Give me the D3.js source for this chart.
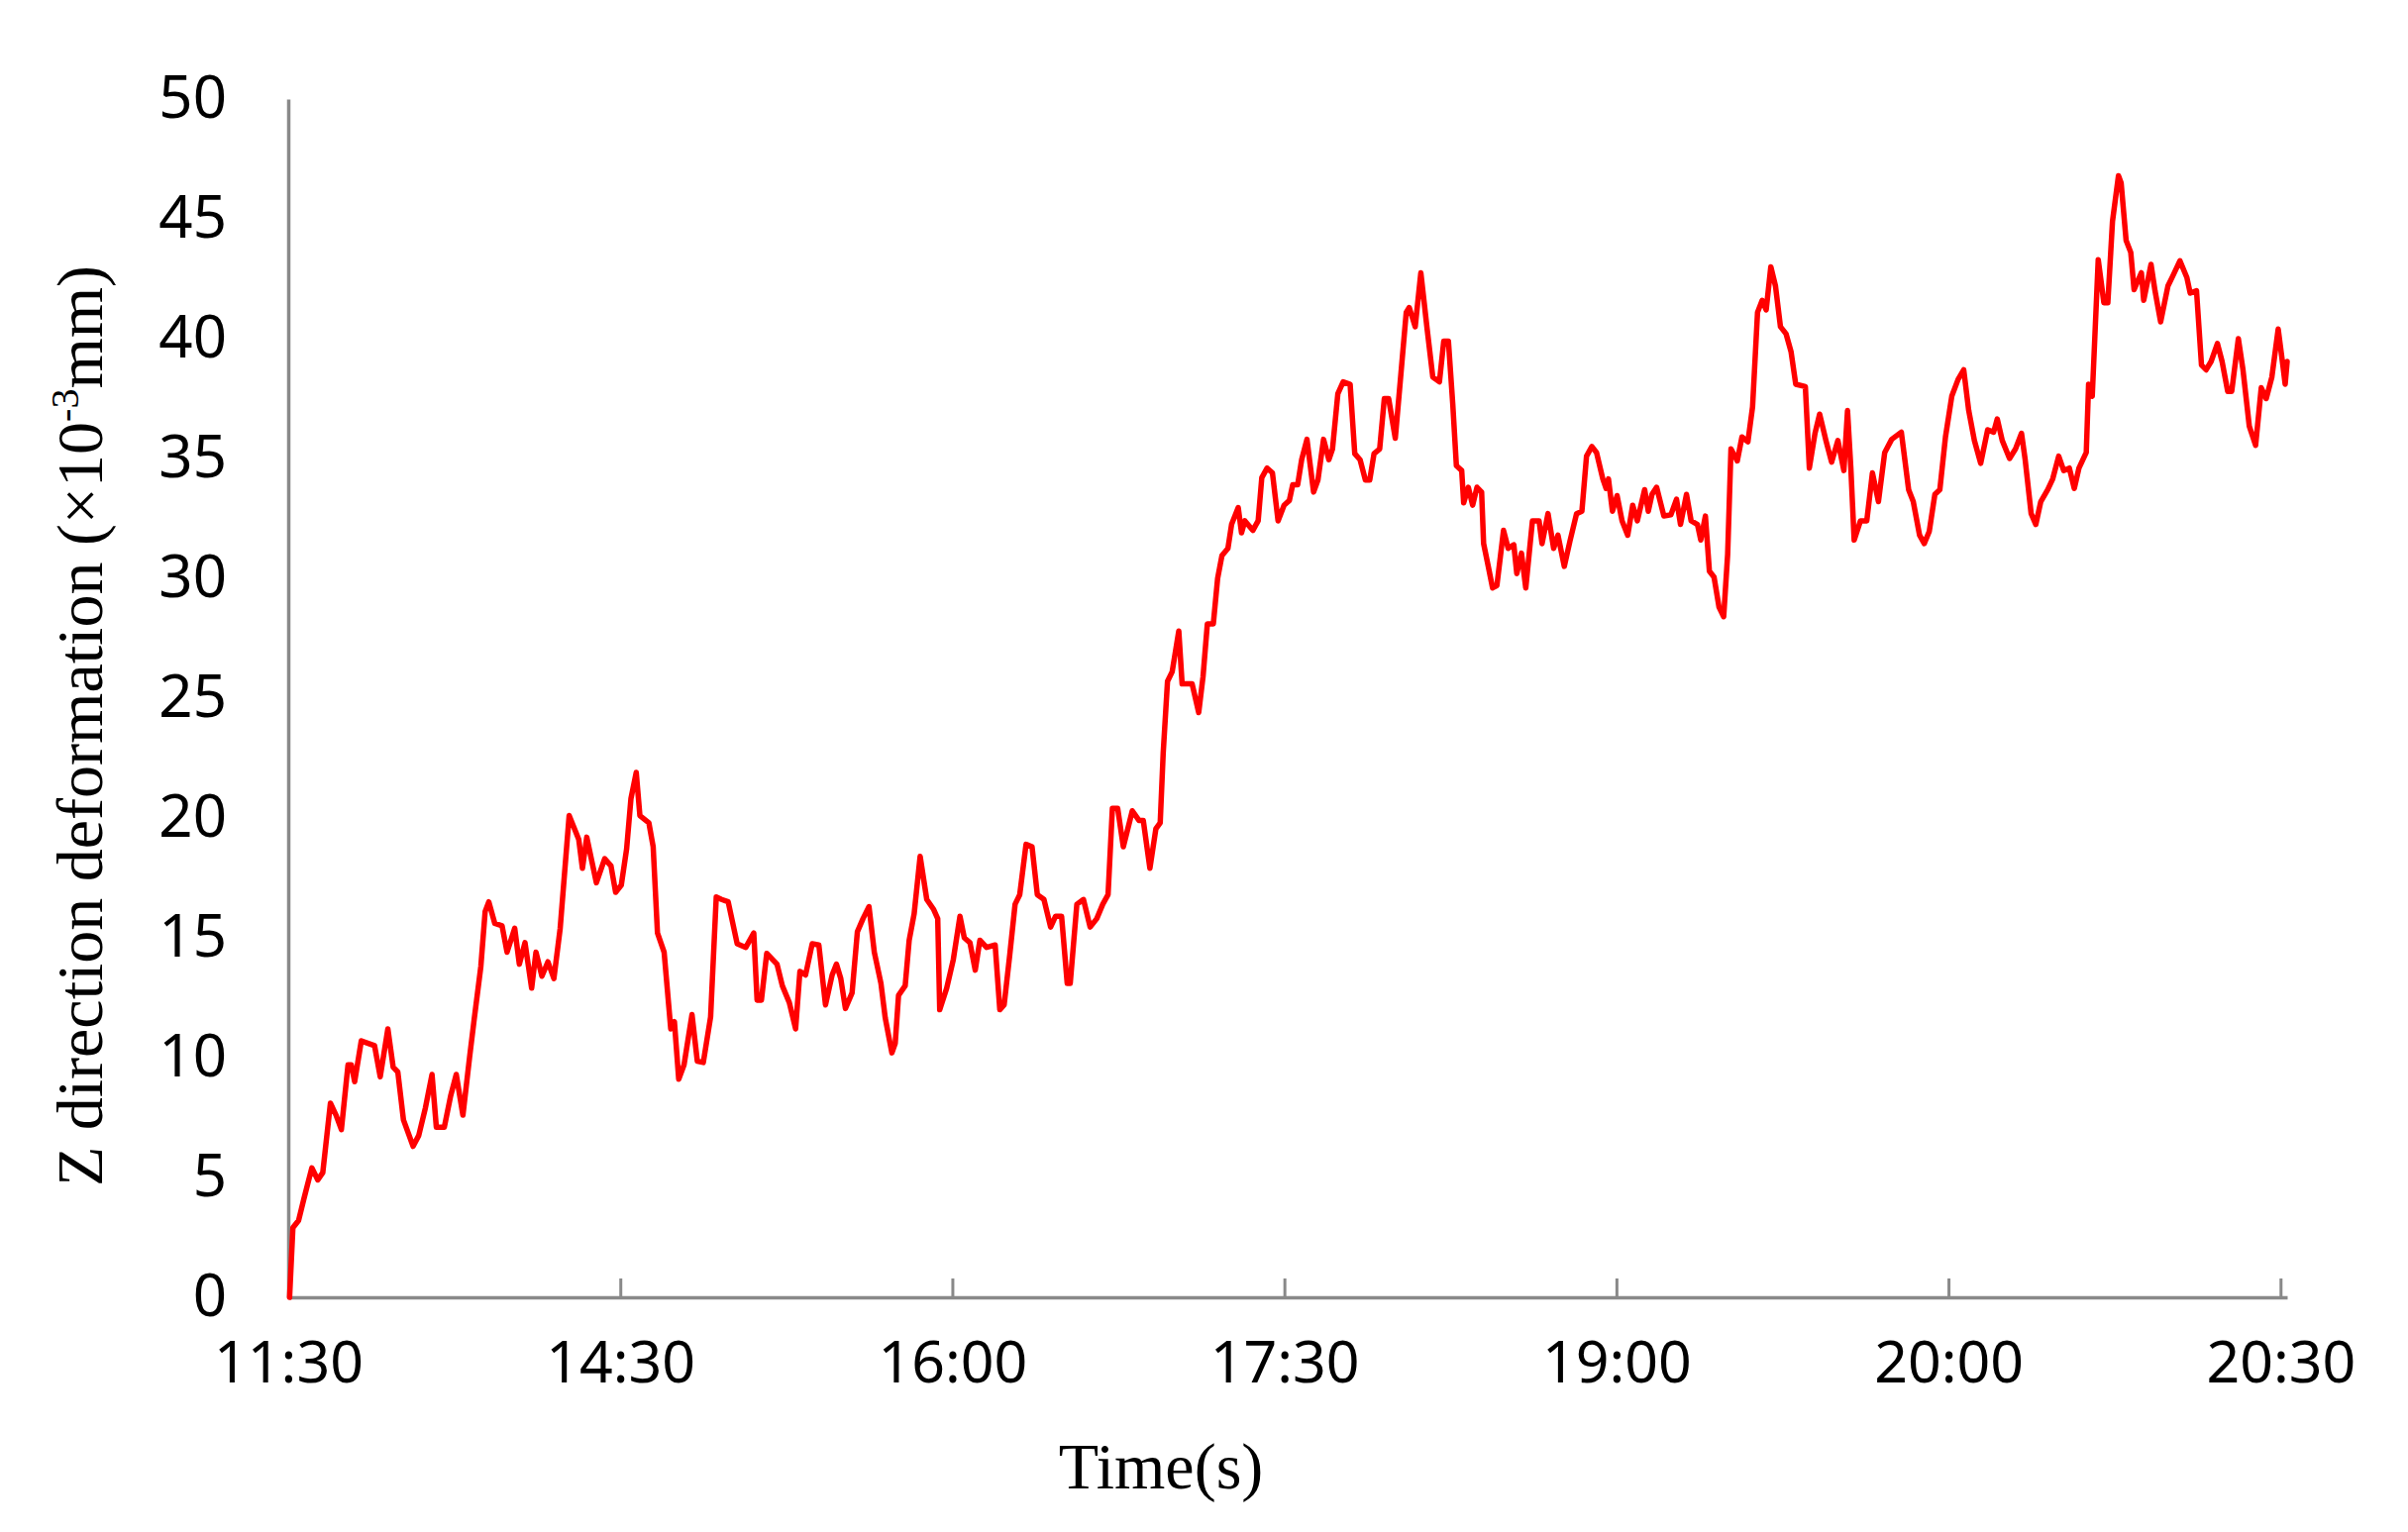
<!DOCTYPE html>
<html>
<head>
<meta charset="utf-8">
<script src="https://cdn.jsdelivr.net/npm/d3@7"></script>
<style>
  html, body { margin: 0; padding: 0; background: #ffffff; }
  svg { display: block; }
</style>
</head>
<body>
<svg id="chart" width="2431" height="1547"></svg>
<script>
// ---- data (position in tick intervals from 11:30, deformation ×10^-3 mm) ----
const tickLabels = ["11:30", "14:30", "16:00", "17:30", "19:00", "20:00", "20:30"];
const yTicks = [0, 5, 10, 15, 20, 25, 30, 35, 40, 45, 50];

const position = [
  0.004, 0.014, 0.031, 0.047, 0.071, 0.089, 0.104, 0.127, 0.144, 0.160, 0.180, 0.190, 0.200, 0.220, 0.260,
  0.277, 0.300, 0.316, 0.330, 0.347, 0.376, 0.393, 0.413, 0.433, 0.446, 0.470, 0.489, 0.506, 0.526, 0.546,
  0.560, 0.580, 0.593, 0.604, 0.622, 0.644, 0.659, 0.682, 0.696, 0.713, 0.733, 0.746, 0.764, 0.782, 0.800,
  0.819, 0.846, 0.875, 0.886, 0.899, 0.928, 0.953, 0.972, 0.986, 1.003, 1.019, 1.032, 1.048, 1.059, 1.086,
  1.099, 1.112, 1.132, 1.152, 1.163, 1.176, 1.192, 1.216, 1.232, 1.250, 1.272, 1.289, 1.305, 1.325, 1.352,
  1.378, 1.402, 1.412, 1.425, 1.441, 1.472, 1.488, 1.509, 1.528, 1.541, 1.558, 1.578, 1.598, 1.618, 1.638,
  1.651, 1.664, 1.678, 1.698, 1.714, 1.731, 1.749, 1.765, 1.785, 1.798, 1.818, 1.828,
  1.838, 1.858, 1.870, 1.885, 1.903, 1.923, 1.943, 1.956, 1.962, 1.983, 2.003, 2.023, 2.036, 2.053, 2.069,
  2.083, 2.103, 2.129, 2.143, 2.156, 2.173, 2.189, 2.203, 2.222, 2.240, 2.256, 2.276, 2.296, 2.311, 2.329,
  2.346, 2.355, 2.375, 2.395, 2.415, 2.435, 2.453, 2.469, 2.482, 2.498, 2.515, 2.542, 2.562, 2.575, 2.595,
  2.613, 2.626, 2.635, 2.648, 2.662, 2.682, 2.692, 2.722, 2.742, 2.755, 2.768, 2.786, 2.799, 2.812, 2.830,
  2.841, 2.861, 2.871, 2.881, 2.905, 2.921, 2.932, 2.948, 2.964, 2.981, 2.999, 3.015, 3.025, 3.040, 3.052,
  3.068, 3.088, 3.101, 3.118, 3.134, 3.145, 3.161, 3.177, 3.198, 3.212, 3.228, 3.244, 3.257, 3.270, 3.287,
  3.301, 3.314, 3.334, 3.347, 3.367, 3.376, 3.394, 3.411, 3.430, 3.447, 3.467, 3.480, 3.494, 3.507, 3.518,
  3.534, 3.540, 3.554, 3.567, 3.580, 3.594, 3.600, 3.614, 3.627, 3.640, 3.660, 3.674, 3.691, 3.700, 3.714,
  3.727, 3.747, 3.767, 3.776, 3.794, 3.811, 3.824, 3.843, 3.860, 3.880, 3.896, 3.910,
  3.926, 3.940, 3.959, 3.969, 3.976, 3.988, 4.002, 4.017, 4.034, 4.049, 4.063, 4.085, 4.096, 4.107, 4.121,
  4.143, 4.164, 4.181, 4.193, 4.211, 4.225, 4.244, 4.254, 4.268, 4.280, 4.294, 4.309, 4.323, 4.335, 4.345,
  4.364, 4.378, 4.396, 4.410, 4.425, 4.439, 4.451, 4.465, 4.479, 4.494, 4.511, 4.526, 4.540, 4.569, 4.581,
  4.598, 4.612, 4.631, 4.648, 4.667, 4.685, 4.696, 4.706, 4.716, 4.735, 4.754, 4.771, 4.789, 4.808, 4.829,
  4.858, 4.880, 4.894, 4.913, 4.927, 4.942, 4.959, 4.974, 4.991, 5.010, 5.029, 5.046, 5.061, 5.078, 5.097,
  5.118, 5.136, 5.147, 5.162, 5.184, 5.202, 5.220, 5.231, 5.249, 5.263, 5.278, 5.299, 5.314, 5.332, 5.347,
  5.364, 5.379, 5.393, 5.415, 5.422, 5.433, 5.451, 5.468, 5.480, 5.494, 5.512, 5.520, 5.535, 5.549, 5.559,
  5.581, 5.588, 5.610, 5.622, 5.639, 5.661, 5.675, 5.697, 5.718, 5.728, 5.747, 5.762, 5.776, 5.791, 5.810,
  5.824, 5.841, 5.853, 5.873, 5.887, 5.906, 5.925, 5.942, 5.957, 5.974, 5.993, 6.007, 6.014, 6.020
];

const deformation = [
  0.0, 2.9, 3.2, 4.1, 5.4, 4.9, 5.2, 8.1, 7.6, 7.0, 9.7, 9.7, 9.0, 10.7, 10.5,
  9.2, 11.2, 9.6, 9.4, 7.4, 6.3, 6.75, 7.9, 9.3, 7.1, 7.1, 8.4, 9.3, 7.6, 10.0,
  11.6, 13.8, 16.1, 16.5, 15.6, 15.5, 14.4, 15.4, 13.9, 14.8, 12.9, 14.4, 13.4, 14.0, 13.3,
  15.4, 20.1, 19.1, 17.9, 19.2, 17.3, 18.3, 18.0, 16.9, 17.2, 18.7, 20.8, 21.9, 20.1, 19.8,
  18.8, 15.2, 14.4, 11.2, 11.5, 9.1, 9.7, 11.8, 9.85, 9.8, 11.7, 16.7, 16.6, 16.5, 14.75,
  14.6, 15.2, 12.4, 12.4, 14.35, 13.9, 13.0, 12.3, 11.2, 13.6, 13.45, 14.75, 14.7, 12.2, 13.45,
  13.9, 13.3, 12.05, 12.7, 15.25, 15.8, 16.3, 14.4, 13.1, 11.65, 10.2, 10.6,
  12.6, 13.0, 14.9, 16.0, 18.4, 16.6, 16.2, 15.8, 12.0, 12.9, 14.1, 15.9, 15.0, 14.8, 13.65,
  14.9, 14.6, 14.7, 12.0, 12.2, 14.3, 16.4, 16.8, 18.9, 18.8, 16.8, 16.6, 15.45, 15.9, 15.9,
  13.1, 13.1, 16.4, 16.6, 15.45, 15.8, 16.4, 16.8, 20.4, 20.4, 18.8, 20.3, 19.9, 19.9, 17.9,
  19.55, 19.8, 22.7, 25.7, 26.1, 27.8, 25.6, 25.6, 24.4, 25.9, 28.1, 28.1, 30.0, 30.95, 31.25,
  32.25, 32.95, 31.9, 32.4, 32.0, 32.4, 34.2, 34.6, 34.4, 32.4, 33.05, 33.25, 33.9, 33.9, 34.95,
  35.8, 33.6, 34.1, 35.8, 34.95, 35.4, 37.7, 38.2, 38.1, 35.2, 34.95, 34.1, 34.1, 35.2, 35.4,
  37.5, 37.5, 35.85, 37.9, 41.1, 41.3, 40.5, 42.75, 40.4, 38.4, 38.2, 39.9, 39.9, 37.3, 34.7,
  34.5, 33.15, 33.8, 33.05, 33.8, 33.6, 31.45, 30.5, 29.6, 29.7, 32.0, 31.25, 31.4, 30.2, 31.05,
  29.6, 32.4, 32.4, 31.45, 32.7, 31.25, 31.8, 30.5, 31.55, 32.7, 32.8, 35.1,
  35.5, 35.25, 34.15, 33.75, 34.15, 32.8, 33.45, 32.4, 31.8, 33.05, 32.4, 33.7, 32.8, 33.5, 33.8,
  32.6, 32.65, 33.3, 32.25, 33.5, 32.4, 32.25, 31.6, 32.6, 30.3, 30.05, 28.8, 28.4, 31.0, 35.4,
  34.9, 35.9, 35.7, 37.15, 41.1, 41.6, 41.2, 43.0, 42.2, 40.5, 40.2, 39.45, 38.1, 38.0, 34.6,
  36.05, 36.85, 35.75, 34.85, 35.75, 34.5, 37.0, 34.6, 31.6, 32.4, 32.4, 34.4, 33.2, 35.25, 35.8,
  36.1, 33.7, 33.2, 31.8, 31.45, 31.95, 33.5, 33.7, 35.9, 37.6, 38.3, 38.7, 37.0, 35.75, 34.8,
  36.2, 36.1, 36.65, 35.75, 35.0, 35.4, 36.05, 34.95, 32.7, 32.25, 33.2, 33.7, 34.15, 35.1, 34.5,
  34.6, 33.75, 34.6, 35.25, 38.1, 37.6, 43.3, 41.5, 41.5, 44.9, 46.8, 46.5, 44.1, 43.6, 42.05,
  42.75, 41.6, 43.1, 42.0, 40.7, 42.2, 42.6, 43.25, 42.55, 41.9, 42.0, 38.9, 38.7, 39.05, 39.8,
  39.05, 37.8, 37.8, 40.0, 38.7, 36.35, 35.55, 37.95, 37.5, 38.4, 40.4, 38.9, 38.1, 39.05
];

// ---- layout ----
const svg = d3.select("#chart");
svg.append("rect").attr("width", 2431).attr("height", 1547).attr("fill", "#ffffff");

const x = d3.scaleLinear().domain([0, 6.02]).range([291, 2309]);
const y = d3.scaleLinear().domain([0, 50]).range([1310, 100]);

const axisColor = "#898989";
const tickFont = "'Noto Sans', 'Open Sans', sans-serif";
const titleFont = "'Liberation Serif', 'Times New Roman', serif";

// x axis
const xAxis = d3.axisBottom(x)
  .tickValues(d3.range(tickLabels.length))
  .tickFormat(i => tickLabels[i])
  .tickSizeInner(-19)
  .tickSizeOuter(0)
  .tickPadding(44);

const gx = svg.append("g").attr("transform", "translate(0,1310)").call(xAxis);
gx.select(".domain").attr("stroke", axisColor).attr("stroke-width", 3.5);
gx.selectAll(".tick line").attr("stroke", axisColor).attr("stroke-width", 3);
gx.selectAll(".tick text")
  .attr("fill", "#000")
  .attr("font-family", tickFont)
  .attr("font-size", 59)
  .attr("dy", "0.71em");

// y axis
const yAxis = d3.axisLeft(y)
  .tickValues(yTicks)
  .tickSize(0)
  .tickPadding(62);
const gy = svg.append("g").attr("transform", "translate(291,0)").call(yAxis);
gy.select(".domain").attr("stroke", axisColor).attr("stroke-width", 3.5);
gy.selectAll(".tick text")
  .attr("fill", "#000")
  .attr("font-family", tickFont)
  .attr("font-size", 60)
  .attr("dy", "0.30em");

// line
const pts = position.map((p, i) => [p, deformation[i]]);
const line = d3.line().x(d => x(d[0])).y(d => y(d[1])).curve(d3.curveLinear);
svg.append("path")
  .datum(pts)
  .attr("d", line)
  .attr("fill", "none")
  .attr("stroke", "#ff0000")
  .attr("stroke-width", 5.5)
  .attr("stroke-linejoin", "round")
  .attr("stroke-linecap", "round");

// axis titles
svg.append("text")
  .attr("x", 1172)
  .attr("y", 1503)
  .attr("text-anchor", "middle")
  .attr("font-family", titleFont)
  .attr("font-size", 66)
  .attr("fill", "#000")
  .text("Time(s)");

const yt = svg.append("text")
  .attr("transform", "translate(103,733) rotate(-90)")
  .attr("text-anchor", "middle")
  .attr("font-family", titleFont)
  .attr("font-size", 66)
  .attr("fill", "#000");
yt.append("tspan").text("Z direction deformation (\u00d710");
yt.append("tspan").attr("font-size", 40).attr("dy", -24).text("-3");
yt.append("tspan").attr("dy", 24).text("mm)");
</script>
</body>
</html>
